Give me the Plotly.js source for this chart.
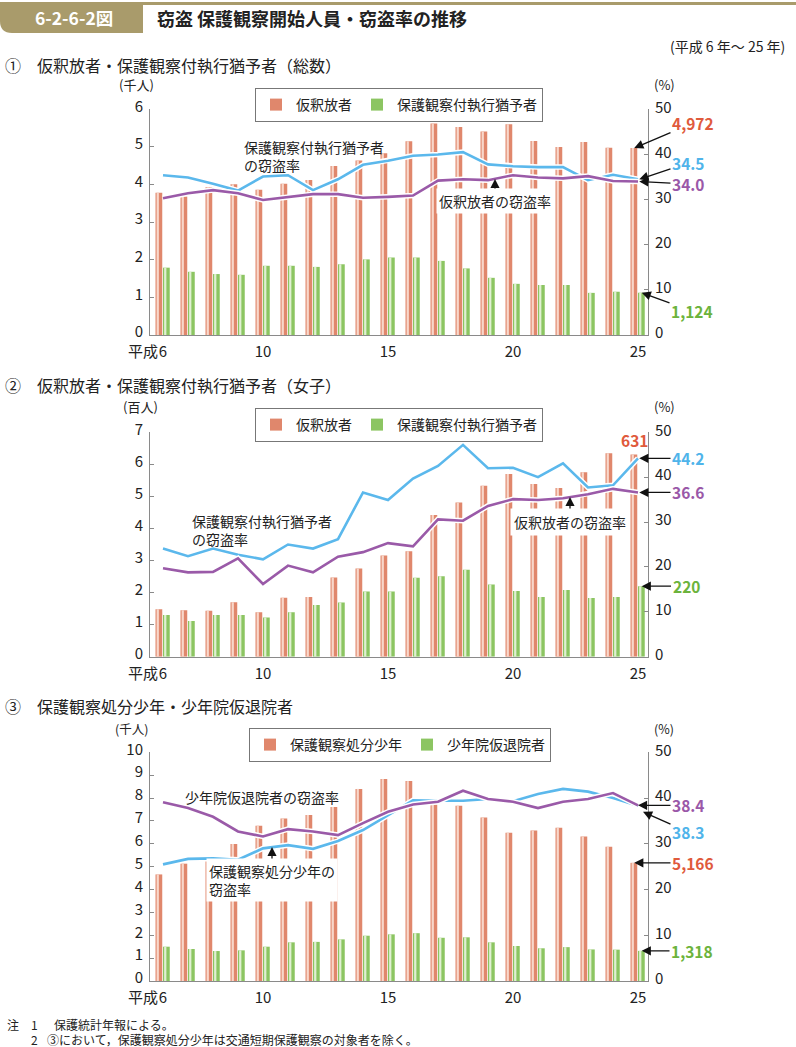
<!DOCTYPE html>
<html><head><meta charset="utf-8">
<script src="https://cdn.plot.ly/plotly-3.0.1.min.js"></script>
<style>html,body{margin:0;padding:0;background:#fff;}#chart{width:796px;height:1047px;}</style>
</head><body><div id="chart"></div>
<script>
// ---------- data ----------
const years = [6,7,8,9,10,11,12,13,14,15,16,17,18,19,20,21,22,23,24,25];
const xTickVals = [6,10,15,20,25];
const xTickText = ['6','10','15','20','25'];

// ① 総数 (千人, %)
const c1Parole    = [3.78,3.68,3.93,4.01,3.86,4.02,4.12,4.49,4.64,4.83,5.15,5.62,5.53,5.41,5.60,5.16,5.00,5.13,4.98,4.972];
const c1Probation = [1.79,1.68,1.62,1.60,1.84,1.84,1.81,1.88,2.01,2.06,2.06,1.97,1.77,1.52,1.36,1.33,1.33,1.12,1.15,1.124];
const c1RateProbation = [35.4,34.9,33.5,32.0,35.1,35.4,32.1,34.5,37.7,38.6,39.7,40.0,40.5,37.8,37.4,37.2,37.2,34.3,35.5,34.5];
const c1RateParole    = [30.3,31.4,32.1,31.4,29.9,30.5,31.2,31.2,30.4,30.6,30.9,34.2,34.5,34.3,35.4,34.9,34.7,35.2,34.1,34.0];

// ② 女子 (百人, %)
const c2Parole    = [1.48,1.45,1.43,1.70,1.39,1.84,1.86,2.47,2.75,3.16,3.29,4.42,4.81,5.33,5.70,5.39,5.26,5.75,6.35,6.31];
const c2Probation = [1.30,1.11,1.30,1.30,1.22,1.39,1.61,1.69,2.03,2.03,2.46,2.51,2.71,2.25,2.05,1.86,2.08,1.83,1.86,2.20];
const c2RateProbation = [24.1,22.4,24.1,22.7,21.7,25.0,24.1,26.2,36.6,34.9,39.7,42.5,47.2,42.0,42.1,40.0,43.1,37.7,38.2,44.2];
const c2RateParole    = [19.7,18.8,18.9,21.9,16.2,20.3,18.8,22.3,23.3,25.3,24.6,30.6,30.3,33.6,35.1,34.9,35.3,36.2,37.4,36.6];

// ③ 少年 (千人, %)
const c3Juvenile = [4.66,5.13,5.26,5.99,6.79,7.11,7.26,7.61,8.40,8.83,8.74,7.72,7.66,7.15,6.48,6.58,6.70,6.32,5.87,5.166];
const c3Training = [1.50,1.40,1.31,1.34,1.50,1.69,1.71,1.82,1.98,2.04,2.09,1.89,1.91,1.69,1.53,1.43,1.48,1.38,1.37,1.318];
const c3RateJuvenile = [25.5,26.7,26.8,26.5,29.0,29.7,28.9,30.6,33.0,36.3,39.5,39.4,39.4,39.8,39.3,40.9,42.0,41.4,40.0,38.3];
const c3RateTraining = [39.1,37.8,35.9,32.7,31.6,33.2,32.7,31.9,34.5,37.0,38.6,39.2,41.6,39.8,39.2,37.8,39.2,39.8,41.1,38.4];

// ---------- style ----------
const W = 796, H = 1047;
const px = v => v / W;
const py = v => 1 - v / H;
const FONT = '"Noto Sans CJK JP", "Noto Sans", sans-serif';
const INK = '#222';
const RED = '#e0876c', RED_HI = '#f8d7ca';
const GREEN = '#8cc562', GREEN_HI = '#e0f0d2';
const BLUE = '#5bb8ec', PURPLE = '#9a5aa8';
const RED_TXT = '#e05a3c', GREEN_TXT = '#6cb33c', BLUE_TXT = '#4fb4ea', PURPLE_TXT = '#9a58a8';
const GOLD = '#a99b6b';
const AX = '#8a8a8a';

// plot geometry (pixels)
const XL = 150, XR = 648, XMIN = 5.48, XMAX = 25.4;
const P = [
  {top:109.3, bottom:335, max:6},
  {top:432.3, bottom:656.7, max:7},
  {top:752.3, bottom:981, max:10}
];
const xPix = v => XL + (v - XMIN) / (XMAX - XMIN) * (XR - XL);
const yPixL = (k, v) => P[k].bottom - v / P[k].max * (P[k].bottom - P[k].top);
const yPixR = (k, v) => P[k].bottom - v / 50 * (P[k].bottom - P[k].top);

function panelTraces(k, barA, barB, nameA, nameB, rateBlue, ratePurple) {
  const xa = k === 1 ? 'x' : 'x' + k;
  const yl = k === 1 ? 'y' : 'y' + (2 * k - 1);
  const yr = 'y' + (2 * k);
  const lg = k === 1 ? 'legend' : 'legend' + k;
  return [
    {type:'bar', x:years, y:barA, xaxis:xa, yaxis:yl, name:nameA, legend:lg, marker:{color:RED, line:{width:0}}, offset:-0.30, width:0.27},
    {type:'bar', x:years, y:barA, xaxis:xa, yaxis:yl, showlegend:false, marker:{color:RED_HI, line:{width:0}}, offset:-0.255, width:0.09},
    {type:'bar', x:years, y:barB, xaxis:xa, yaxis:yl, name:nameB, legend:lg, marker:{color:GREEN, line:{width:0}}, offset:0.0, width:0.27},
    {type:'bar', x:years, y:barB, xaxis:xa, yaxis:yl, showlegend:false, marker:{color:GREEN_HI, line:{width:0}}, offset:0.045, width:0.09},
    {type:'scatter', mode:'lines', x:years, y:rateBlue, xaxis:xa, yaxis:yr, showlegend:false, line:{color:'#fff', width:5.5}},
    {type:'scatter', mode:'lines', x:years, y:rateBlue, xaxis:xa, yaxis:yr, showlegend:false, line:{color:BLUE, width:2.6}},
    {type:'scatter', mode:'lines', x:years, y:ratePurple, xaxis:xa, yaxis:yr, showlegend:false, line:{color:'#fff', width:5.5}},
    {type:'scatter', mode:'lines', x:years, y:ratePurple, xaxis:xa, yaxis:yr, showlegend:false, line:{color:PURPLE, width:2.6}}
  ];
}

const data = [].concat(
  panelTraces(1, c1Parole, c1Probation, '仮釈放者', '保護観察付執行猶予者', c1RateProbation, c1RateParole),
  panelTraces(2, c2Parole, c2Probation, '仮釈放者', '保護観察付執行猶予者', c2RateProbation, c2RateParole),
  panelTraces(3, c3Juvenile, c3Training, '保護観察処分少年', '少年院仮退院者', c3RateJuvenile, c3RateTraining)
);

const tickFont = {family:FONT, size:15, color:INK};
function xAxis(yl) {
  return {domain:[px(XL), px(XR)], anchor:yl, range:[XMIN, XMAX], tickvals:xTickVals, ticktext:xTickText,
    showline:true, linecolor:AX, linewidth:1, ticks:'', showgrid:false, zeroline:false, tickfont:tickFont, ticklabelstandoff:3};
}
function yLeft(xa, p) {
  return {domain:[py(p.bottom), py(p.top)], anchor:xa, range:[0, p.max], dtick:1, showline:true, linecolor:AX, linewidth:1,
    ticks:'inside', ticklen:4, tickcolor:AX, showgrid:false, zeroline:false, tickfont:tickFont, ticklabelstandoff:3, ticklabelshift:-3};
}
function yRight(xa, yl) {
  return {overlaying:yl, anchor:xa, side:'right', range:[0, 50], dtick:10, showline:true, linecolor:AX, linewidth:1,
    ticks:'inside', ticklen:4, tickcolor:AX, showgrid:false, zeroline:false, tickfont:tickFont, ticklabelstandoff:3, ticklabelshift:-2};
}

function legendBox(x, y) {
  return {x:px(x), y:py(y), xanchor:'left', yanchor:'top', orientation:'h', bordercolor:'#777', borderwidth:1,
    bgcolor:'#fff', font:{family:FONT, size:14, color:INK}, itemwidth:30, traceorder:'normal'};
}

// annotation helpers
function txt(x, y, text, o) {
  return Object.assign({xref:'paper', yref:'paper', x:px(x), y:py(y), text:text, showarrow:false,
    xanchor:'left', yanchor:'middle', align:'left', font:{family:FONT, size:14, color:INK}}, o || {});
}
const ARROW = {showarrow:true, arrowhead:2, arrowsize:1.4, arrowwidth:1.3, arrowcolor:'#111', standoff:0, startstandoff:0, borderpad:1};
// labelled arrow: head at data point (pixel hx,hy computed from data), text centred at (tx,ty)
function callout(xa, ya, x, y, hx, hy, tx, ty, text, font, extra) {
  return Object.assign({xref:xa, yref:ya, x:x, y:y, ax:tx - hx, ay:ty - hy, axref:'pixel', ayref:'pixel',
    text:text, font:font, xanchor:'center', yanchor:'middle', align:'left'}, ARROW, extra || {});
}
const valFont = c => ({family:FONT, size:15.5, color:c, weight:600});
const unitFont = {family:FONT, size:13, color:INK};
const last = a => a[a.length - 1];
const fmtInt = v => Math.round(v * 1000).toLocaleString('en-US');
const RX = 24.85, GX = 25.15; // red / green bar centres of last year

const annotations = [
  // header
  txt(33, 18, '6-2-6-2図', {font:{family:FONT, size:17.5, color:'#fff', weight:700}}),
  txt(155, 18, '窃盗 保護観察開始人員・窃盗率の推移', {font:{family:FONT, size:18, color:INK, weight:600}}),
  txt(787, 46, '(平成 6 年～ 25 年)', {xanchor:'right', font:{family:FONT, size:14, color:INK}}),

  // section titles
  txt(3, 65, '①', {font:{family:FONT, size:16, color:INK}}),
  txt(35, 65, '仮釈放者・保護観察付執行猶予者（総数）', {font:{family:FONT, size:16, color:INK}}),
  txt(3, 385, '②', {font:{family:FONT, size:16, color:INK}}),
  txt(35, 385, '仮釈放者・保護観察付執行猶予者（女子）', {font:{family:FONT, size:16, color:INK}}),
  txt(3, 706, '③', {font:{family:FONT, size:16, color:INK}}),
  txt(35, 706, '保護観察処分少年・少年院仮退院者', {font:{family:FONT, size:16, color:INK}}),

  // unit labels
  txt(136, 85, '(千人)', {xanchor:'center', font:unitFont}),
  txt(664, 85, '(%)', {xanchor:'center', font:unitFont}),
  txt(140, 407, '(百人)', {xanchor:'center', font:unitFont}),
  txt(664, 407, '(%)', {xanchor:'center', font:unitFont}),
  txt(131, 728, '(千人)', {xanchor:'center', font:{family:FONT, size:12.5, color:INK}}),
  txt(664, 728, '(%)', {xanchor:'center', font:{family:FONT, size:12.5, color:INK}}),

  // 平成 prefix for first tick
  {xref:'x', yref:'paper', x:6, y:py(P[0].bottom), text:'平成', showarrow:false, xanchor:'right', yanchor:'top', xshift:-3, yshift:-3, font:tickFont},
  {xref:'x2', yref:'paper', x:6, y:py(P[1].bottom), text:'平成', showarrow:false, xanchor:'right', yanchor:'top', xshift:-3, yshift:-3, font:tickFont},
  {xref:'x3', yref:'paper', x:6, y:py(P[2].bottom), text:'平成', showarrow:false, xanchor:'right', yanchor:'top', xshift:-3, yshift:-3, font:tickFont},

  // ---- panel 1 notes ----
  txt(242, 156, '保護観察付執行猶予者<br>の窃盗率'),
  callout('paper', 'paper', px(495), py(179), 495, 179, 495, 201, '仮釈放者の窃盗率',
    {family:FONT, size:14, color:INK}, {bgcolor:'#fff', borderpad:2}),
  callout('x', 'y', RX, last(c1Parole), xPix(RX), yPixL(0, last(c1Parole)), 693, 123, fmtInt(last(c1Parole)), valFont(RED_TXT)),
  callout('x', 'y2', 25.05, last(c1RateProbation), xPix(25.05), yPixR(0, last(c1RateProbation)), 688, 163, last(c1RateProbation).toFixed(1), valFont(BLUE_TXT)),
  callout('x', 'y2', 25.05, last(c1RateParole), xPix(25.05), yPixR(0, last(c1RateParole)), 688, 184, last(c1RateParole).toFixed(1), valFont(PURPLE_TXT)),
  callout('x', 'y', GX, last(c1Probation), xPix(GX), yPixL(0, last(c1Probation)), 692, 311, fmtInt(last(c1Probation)), valFont(GREEN_TXT)),

  // ---- panel 2 notes ----
  txt(190, 530, '保護観察付執行猶予者<br>の窃盗率'),
  callout('paper', 'paper', px(570), py(497), 570, 497, 570, 522, '仮釈放者の窃盗率',
    {family:FONT, size:14, color:INK}, {bgcolor:'#fff', borderpad:3}),
  {xref:'x2', yref:'y3', x:RX, y:last(c2Parole), text:String(Math.round(last(c2Parole) * 100)), showarrow:false,
    xanchor:'center', yanchor:'bottom', yshift:1, font:valFont(RED_TXT)},
  callout('x2', 'y4', 25.05, last(c2RateProbation), xPix(25.05), yPixR(1, last(c2RateProbation)), 688, yPixR(1, last(c2RateProbation)), last(c2RateProbation).toFixed(1), valFont(BLUE_TXT)),
  callout('x2', 'y4', 25.05, last(c2RateParole), xPix(25.05), yPixR(1, last(c2RateParole)), 688, yPixR(1, last(c2RateParole)), last(c2RateParole).toFixed(1), valFont(PURPLE_TXT)),
  callout('x2', 'y3', GX, last(c2Probation), xPix(GX), yPixL(1, last(c2Probation)), 686, yPixL(1, last(c2Probation)), String(Math.round(last(c2Probation) * 100)), valFont(GREEN_TXT)),

  // ---- panel 3 notes ----
  txt(183, 797, '少年院仮退院者の窃盗率'),
  callout('paper', 'paper', px(272), py(847), 272, 847, 272, 880, '保護観察処分少年の<br>窃盗率',
    {family:FONT, size:14, color:INK}, {bgcolor:'#fff', borderpad:2}),
  callout('x3', 'y6', 25.0, last(c3RateTraining), xPix(25.0), yPixR(2, last(c3RateTraining)), 688, yPixR(2, last(c3RateTraining)), last(c3RateTraining).toFixed(1), valFont(PURPLE_TXT)),
  callout('x3', 'y6', 25.2, last(c3RateJuvenile), xPix(25.2), yPixR(2, last(c3RateJuvenile)), 688, 826, last(c3RateJuvenile).toFixed(1), valFont(BLUE_TXT), {yshift:-6}),
  callout('x3', 'y5', RX, last(c3Juvenile), xPix(RX), yPixL(2, last(c3Juvenile)), 693, yPixL(2, last(c3Juvenile)), fmtInt(last(c3Juvenile)), valFont(RED_TXT)),
  callout('x3', 'y5', GX, last(c3Training), xPix(GX), yPixL(2, last(c3Training)), 692, yPixL(2, last(c3Training)), fmtInt(last(c3Training)), valFont(GREEN_TXT)),

  // footnotes
  txt(5, 1024, '注', {font:{family:FONT, size:12, color:INK}}),
  txt(29, 1024, '1', {font:{family:FONT, size:12, color:INK}}),
  txt(52, 1024, '保護統計年報による。', {font:{family:FONT, size:12, color:INK}}),
  txt(29, 1039, '2', {font:{family:FONT, size:12, color:INK}}),
  txt(45, 1039, '③において，保護観察処分少年は交通短期保護観察の対象者を除く。', {font:{family:FONT, size:12, color:INK}})
];

// header shapes (tab + rule)
const tabPath = 'M ' + px(0) + ',' + py(3) + ' L ' + px(143) + ',' + py(3) + ' L ' + px(143) + ',' + py(33) +
  ' L ' + px(12) + ',' + py(33) + ' Q ' + px(0) + ',' + py(33) + ' ' + px(0) + ',' + py(21) + ' Z';
const shapes = [
  {type:'path', xref:'paper', yref:'paper', path:tabPath, fillcolor:GOLD, line:{width:0}},
  {type:'line', xref:'paper', yref:'paper', x0:px(0), x1:px(796), y0:py(3.5), y1:py(3.5), line:{color:GOLD, width:3}}
];

const layout = {
  width:W, height:H, margin:{l:0, r:0, t:0, b:0}, paper_bgcolor:'#fff', plot_bgcolor:'rgba(0,0,0,0)',
  font:{family:FONT, color:INK}, barmode:'overlay', showlegend:true,
  xaxis:xAxis('y'), yaxis:yLeft('x', P[0]), yaxis2:yRight('x', 'y'),
  xaxis2:xAxis('y3'), yaxis3:yLeft('x2', P[1]), yaxis4:yRight('x2', 'y3'),
  xaxis3:xAxis('y5'), yaxis5:yLeft('x3', P[2]), yaxis6:yRight('x3', 'y5'),
  legend:legendBox(255, 88), legend2:legendBox(255, 408), legend3:legendBox(249, 728),
  annotations:annotations, shapes:shapes
};

Plotly.newPlot('chart', data, layout, {staticPlot:true, displayModeBar:false});
</script></body></html>
